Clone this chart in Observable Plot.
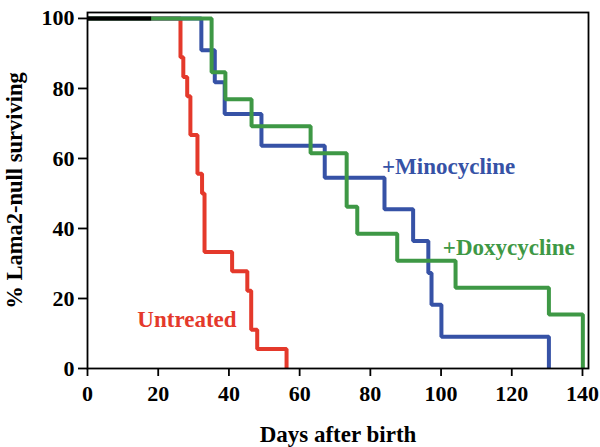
<!DOCTYPE html>
<html>
<head>
<meta charset="utf-8">
<script src="https://cdn.jsdelivr.net/npm/d3@7"></script>
<script src="https://cdn.jsdelivr.net/npm/@observablehq/plot@0.6"></script>
<style>
  html, body { margin: 0; padding: 0; background: #fff; }
  #chart svg { display: block; }
</style>
</head>
<body>
<div id="chart"></div>
<script>
// Kaplan–Meier steps (days after birth, % surviving)
const untreatedDays = [0, 26.3, 27.1, 28.2, 29.1, 31.1, 32.4, 33.1, 40.9, 45.2, 46.3, 48.0, 56.3];
const untreatedSurv = [100, 88.9, 83.3, 77.8, 66.7, 55.6, 50, 33.3, 27.8, 22.2, 11.1, 5.6, 0];

const minoDays = [0, 32.2, 36.0, 38.8, 49.2, 67.1, 84.0, 92.1, 96.4, 97.3, 100.1, 130.5];
const minoSurv = [100, 90.9, 81.8, 72.7, 63.6, 54.5, 45.5, 36.4, 27.3, 18.2, 9.1, 0];

const doxyDays = [0, 35.1, 39.0, 46.4, 63.1, 73.3, 76.3, 87.6, 104.1, 130.5, 140.1];
const doxySurv = [100, 84.6, 76.9, 69.2, 61.5, 46.2, 38.5, 30.8, 23.1, 15.4, 0];

const sharedDays = [0, 18];
const sharedSurv = [100, 100];

const xTicks = [0, 20, 40, 60, 80, 100, 120, 140];
const yTicks = [0, 20, 40, 60, 80, 100];

const labelText = ["+Minocycline", "+Doxycycline", "Untreated"];
const labelDay = [83.3, 100.5, 14.1];
const labelSurv = [57.7, 34.4, 14.1];
const labelSeries = ["mino", "doxy", "untreated"];

const colors = {untreated: "#e4392b", mino: "#3652a6", doxy: "#3e9845", shared: "#000000"};

const toRows = (days, surv, series) => days.map((d, i) => ({day: d, surv: surv[i], series}));
const untreated = toRows(untreatedDays, untreatedSurv, "untreated");
const mino = toRows(minoDays, minoSurv, "mino");
const doxy = toRows(doxyDays, doxySurv, "doxy");
const shared = toRows(sharedDays, sharedSurv, "shared");
const labels = labelText.map((t, i) => ({text: t, day: labelDay[i], surv: labelSurv[i], series: labelSeries[i]}));

const font = "Liberation Serif, Times New Roman, serif";

const lineOpts = (color) => ({x: "day", y: "surv", curve: "step-after", stroke: color, strokeWidth: 4, strokeLinejoin: "miter", strokeLinecap: "butt"});

const chart = Plot.plot({
  width: 600,
  height: 447,
  marginLeft: 87,
  marginRight: 12,
  marginTop: 12,
  marginBottom: 79,
  style: {fontFamily: font, background: "#fff", color: "#000"},
  x: {domain: [0, 141.7]},
  y: {domain: [0, 101.7]},
  marks: [
    Plot.line(untreated, lineOpts(colors.untreated)),
    Plot.line(mino, lineOpts(colors.mino)),
    Plot.line(doxy, lineOpts(colors.doxy)),
    Plot.line(shared, lineOpts(colors.shared)),
    Plot.frame({stroke: "#000", strokeWidth: 1.8}),
    Plot.axisX({
      ticks: xTicks, tickSize: 8, tickPadding: 9, tickFormat: d => d,
      fontSize: 22, fontWeight: "bold", fontFamily: font,
      strokeWidth: 1.8,
      label: "Days after birth", labelAnchor: "center", labelArrow: "none", labelOffset: 73
    }),
    Plot.axisY({
      ticks: yTicks, tickSize: 9, tickPadding: 4, tickFormat: d => d,
      fontSize: 22, fontWeight: "bold", fontFamily: font,
      strokeWidth: 1.8,
      label: "% Lama2-null surviving", labelAnchor: "center", labelArrow: "none", labelOffset: 81
    }),
    Plot.text(labels, {
      x: "day", y: "surv", text: "text", textAnchor: "start",
      fill: d => colors[d.series],
      fontSize: 23, fontWeight: "bold", fontFamily: font
    })
  ]
});

// axis titles sized to match the reference
const setSize = (sel, size) => chart.querySelectorAll(sel).forEach(el => el.setAttribute("font-size", size));
setSize("g[aria-label='x-axis label'], g[aria-label='x-axis label'] text", "23");
setSize("g[aria-label='y-axis label'], g[aria-label='y-axis label'] text", "22.5");

document.getElementById("chart").appendChild(chart);
</script>
</body>
</html>
